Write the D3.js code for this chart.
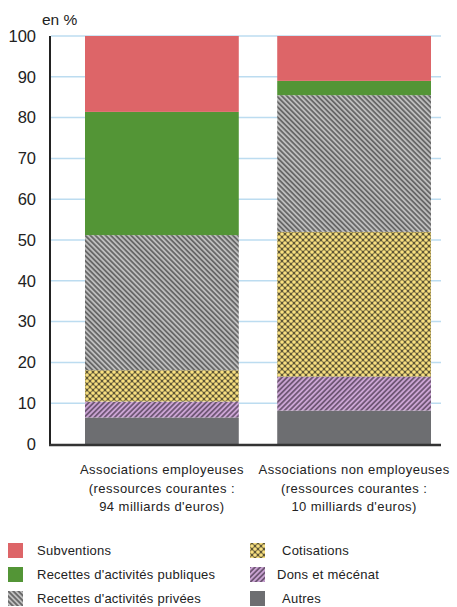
<!DOCTYPE html>
<html><head><meta charset="utf-8">
<script src="https://cdn.jsdelivr.net/npm/d3@7"></script>
<style>body{margin:0;background:#fff}svg{display:block;font-family:"Liberation Sans",Arial,sans-serif}</style>
</head><body><svg id="c" width="457" height="607"></svg>
<script>
const categories = ["Associations employeuses", "Associations non employeuses"];
const categorySub = [["(ressources courantes :", "94 milliards d'euros)"], ["(ressources courantes :", "10 milliards d'euros)"]];
const seriesNames = ["Autres", "Dons et mécénat", "Cotisations", "Recettes d'activités privées", "Recettes d'activités publiques", "Subventions"];
const autres = [6.5, 8.2];
const dons = [3.9, 8.3];
const cotisations = [7.7, 35.5];
const privees = [33.1, 33.5];
const publiques = [30.2, 3.5];
const subventions = [18.6, 11.0];
const yTicks = [0,10,20,30,40,50,60,70,80,90,100];
const legendOrder = [["Subventions","Recettes d'activités publiques","Recettes d'activités privées"],["Cotisations","Dons et mécénat","Autres"]];

const svg = d3.select("#c");
const defs = svg.append("defs");
function stripes(id, bg, fg, angle, size, w){
  const p = defs.append("pattern").attr("id", id).attr("patternUnits","userSpaceOnUse")
    .attr("width", size).attr("height", size).attr("patternTransform", `rotate(${angle})`);
  p.append("rect").attr("width", size).attr("height", size).attr("fill", bg);
  p.append("line").attr("x1",0).attr("x2",size).attr("y1",size/2).attr("y2",size/2).attr("stroke",fg).attr("stroke-width",w);
}
stripes("pPriv", "#bdbdbd", "#474747", 45, 3.6, 1.3);
stripes("pDons", "#cba4d4", "#4d3b52", -45, 3.6, 1.3);
{
  const s = 6;
  const p = defs.append("pattern").attr("id","pCot").attr("patternUnits","userSpaceOnUse").attr("width",s).attr("height",s);
  p.append("rect").attr("width",s).attr("height",s).attr("fill","#5e5636");
  [[0,0],[s,0],[0,s],[s,s],[s/2,s/2]].forEach(([x,y])=>p.append("circle").attr("cx",x).attr("cy",y).attr("r",1.85).attr("fill","#f8e080"));
}
const fills = {"Subventions":"#dd6568","Recettes d'activités publiques":"#539536","Recettes d'activités privées":"url(#pPriv)","Cotisations":"url(#pCot)","Dons et mécénat":"url(#pDons)","Autres":"#6d6e71"};

const data = categories.map((c,i)=>({cat:c, "Autres":autres[i], "Dons et mécénat":dons[i], "Cotisations":cotisations[i], "Recettes d'activités privées":privees[i], "Recettes d'activités publiques":publiques[i], "Subventions":subventions[i]}));
const stack = d3.stack().keys(seriesNames)(data);

const y = d3.scaleLinear().domain([0,100]).range([444,36]);
const x = d3.scaleBand().domain(categories).range([85,431]).paddingInner(0.2).paddingOuter(0);

// gridlines
svg.append("g").selectAll("line").data(yTicks.filter(d=>d>0)).join("line")
  .attr("x1",51).attr("x2",441).attr("y1",d=>y(d)).attr("y2",d=>y(d))
  .attr("stroke","#bcdcf0").attr("stroke-width",1.5);

// bars
svg.append("g").selectAll("g").data(stack).join("g").attr("fill",d=>fills[d.key])
  .selectAll("rect").data(d=>d).join("rect")
  .attr("x",d=>x(d.data.cat)).attr("width",x.bandwidth())
  .attr("y",d=>y(d[1])).attr("height",d=>y(d[0])-y(d[1]));

// y axis
const yAxis = d3.axisLeft(y).tickValues(yTicks).tickSize(0).tickPadding(14);
const ga = svg.append("g").attr("transform","translate(50,0)").call(yAxis);
ga.select(".domain").remove();
ga.selectAll("text").attr("font-size",16.5).attr("fill","#222").attr("font-family","Liberation Sans, Arial, sans-serif");
svg.append("line").attr("x1",50).attr("x2",50).attr("y1",y(100)).attr("y2",445).attr("stroke","#222").attr("stroke-width",2);
svg.append("line").attr("x1",49).attr("x2",441).attr("y1",445).attr("y2",445).attr("stroke","#333").attr("stroke-width",2.5);
svg.append("text").attr("x",42).attr("y",25).attr("font-size",15.5).attr("fill","#222").text("en %");

// category labels
categories.forEach((c,i)=>{
  const cx = x(c)+x.bandwidth()/2;
  const t = svg.append("text").attr("text-anchor","middle").attr("font-size",13).attr("letter-spacing",0.45).attr("fill","#222");
  [c, ...categorySub[i]].forEach((line,j)=>t.append("tspan").attr("x",cx).attr("y",474+j*18.5).text(line));
});

// legend
const legX = [8, 250], legTx = [37, 282], legY = [543, 567, 591];
legendOrder.forEach((col,ci)=>col.forEach((name,ri)=>{
  svg.append("rect").attr("x",legX[ci]).attr("y",legY[ri]).attr("width",15).attr("height",15).attr("fill",fills[name]);
  svg.append("text").attr("x",name==="Dons et mécénat"?277:legTx[ci]).attr("y",legY[ri]+12).attr("font-size",13).attr("letter-spacing",0.25).attr("fill","#222").text(name);
}));
</script></body></html>
